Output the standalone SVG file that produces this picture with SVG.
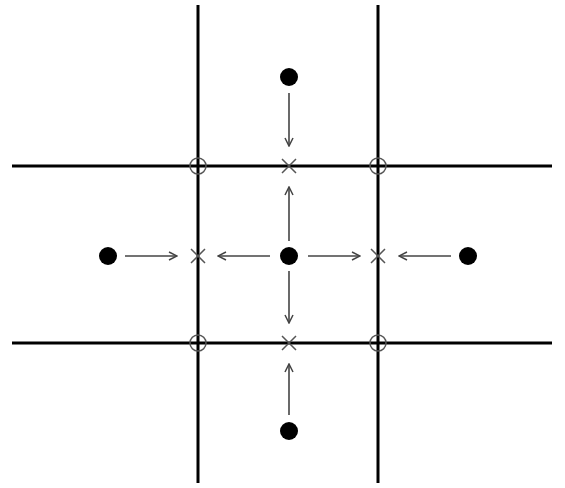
<svg xmlns="http://www.w3.org/2000/svg" width="565" height="488" viewBox="0 0 565 488">
<style>
.grid{stroke:#000;stroke-width:3;fill:none}
.ring{stroke:#555;stroke-width:1.5;fill:none}
.x{stroke:#555;stroke-width:1.5}
.dot{fill:#000}
.arr{stroke:#444;stroke-width:1.6;fill:none;marker-end:url(#ah)}
</style>
<defs>
<marker id="ah" viewBox="0 0 10 10" refX="9" refY="5" markerWidth="10" markerHeight="10" markerUnits="userSpaceOnUse" orient="auto">
<path d="M1,1 L9,5 L1,9" fill="none" stroke="#444" stroke-width="1.5"/>
</marker>
</defs>
<rect width="565" height="488" fill="#fff"/>
<g id="grid">
<line class="grid" x1="198" y1="5" x2="198" y2="483"/>
<line class="grid" x1="378" y1="5" x2="378" y2="483"/>
<line class="grid" x1="12" y1="166" x2="552" y2="166"/>
<line class="grid" x1="12" y1="343" x2="552" y2="343"/>
</g>
<g id="rings">
<circle class="ring" cx="198" cy="166" r="8"/>
<circle class="ring" cx="378" cy="166" r="8"/>
<circle class="ring" cx="198" cy="343" r="8"/>
<circle class="ring" cx="378" cy="343" r="8"/>
</g>
<g id="crosses">
<path class="x" d="M282,159 L296,173 M296,159 L282,173"/>
<path class="x" d="M282,336 L296,350 M296,336 L282,350"/>
<path class="x" d="M191,249 L205,263 M205,249 L191,263"/>
<path class="x" d="M371,249 L385,263 M385,249 L371,263"/>
</g>
<g id="dots">
<circle id="dot-top" class="dot" cx="289" cy="77" r="9"/>
<circle id="dot-left" class="dot" cx="108" cy="256" r="9"/>
<circle id="dot-center" class="dot" cx="289" cy="256" r="9"/>
<circle id="dot-right" class="dot" cx="468" cy="256" r="9"/>
<circle id="dot-bottom" class="dot" cx="289" cy="431" r="9"/>
</g>
<g id="connectors">
<line class="arr" x1="289" y1="93" x2="289" y2="146"/>
<line class="arr" x1="289" y1="241" x2="289" y2="187"/>
<line class="arr" x1="289" y1="271" x2="289" y2="323"/>
<line class="arr" x1="289" y1="415" x2="289" y2="364"/>
<line class="arr" x1="125" y1="256" x2="177" y2="256"/>
<line class="arr" x1="270" y1="256" x2="218" y2="256"/>
<line class="arr" x1="308" y1="256" x2="360" y2="256"/>
<line class="arr" x1="451" y1="256" x2="399" y2="256"/>
</g>
</svg>
